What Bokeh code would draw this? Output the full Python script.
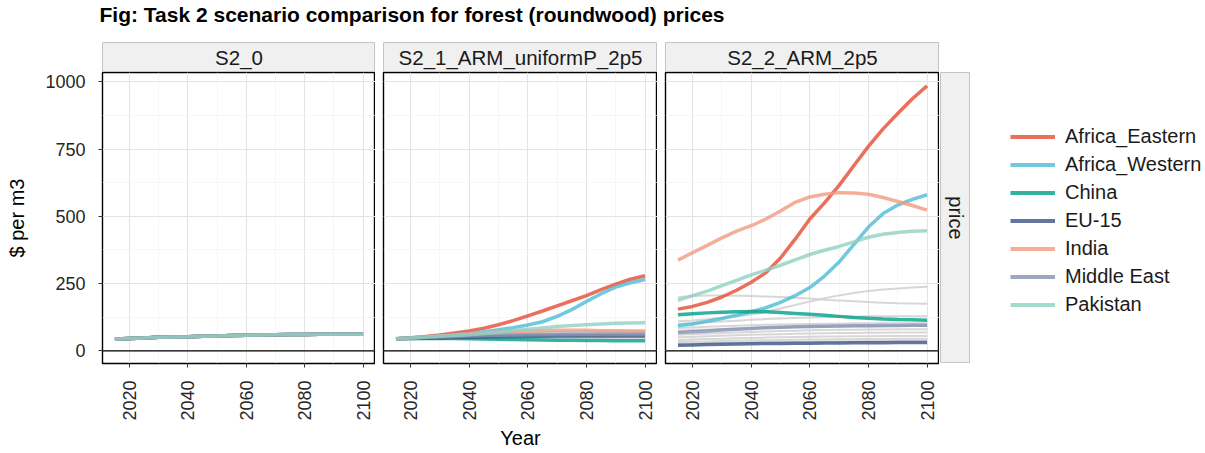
import math
from bokeh.plotting import figure
from bokeh.layouts import row, column
from bokeh.models import Range1d, FixedTicker, Span, Legend, LegendItem, Title
from bokeh.core.properties import value
from bokeh.embed import file_html
from bokeh.resources import INLINE

FONT = "Liberation Sans"

# ---------------- data ----------------
years = [2015, 2020, 2025, 2030, 2035, 2040, 2045, 2050, 2055,
         2060, 2065, 2070, 2075, 2080, 2085, 2090, 2095, 2100]

scenarios = ["S2_0", "S2_1_ARM_uniformP_2p5", "S2_2_ARM_2p5"]
regions = ["Africa_Eastern", "Africa_Western", "China", "EU-15",
           "India", "Middle East", "Pakistan"]
region_colors = ["#E64B35", "#4DBBD5", "#00A087", "#3C5488",
                 "#F39B7F", "#8491B4", "#91D1C2"]

x_major = [2020, 2040, 2060, 2080, 2100]
x_minor = [2030, 2050, 2070, 2090]
y_major = [0, 250, 500, 750, 1000]
y_minor = [125, 375, 625, 875]

# S2_0: one uniform price for every region
s20_all_regions = [44, 46, 48, 50, 51, 52, 54, 55, 57, 58, 59, 60, 61, 61, 62, 62, 62, 62]

# S2_1_ARM_uniformP_2p5
s21_africa_eastern = [45, 49, 53, 59, 66, 74, 84, 97, 112, 130, 148, 167, 186, 205, 227, 248, 266, 279]
s21_africa_western = [45, 48, 51, 55, 60, 65, 71, 78, 86, 96, 108, 128, 153, 183, 212, 237, 253, 265]
s21_china = [45, 46, 46, 46, 46, 45, 44, 43, 42, 41, 40, 39, 39, 38, 38, 37, 37, 37]
s21_eu15 = [45, 46, 47, 48, 49, 50, 51, 52, 53, 54, 54, 55, 55, 55, 55, 55, 55, 55]
s21_india = [45, 48, 51, 55, 59, 63, 67, 70, 72, 74, 75, 76, 76, 76, 75, 75, 74, 73]
s21_middle_east = [45, 47, 49, 51, 53, 55, 57, 58, 59, 60, 61, 61, 62, 62, 62, 62, 62, 62]
s21_pakistan = [45, 48, 51, 54, 57, 60, 64, 69, 75, 80, 85, 90, 94, 97, 100, 102, 103, 104]
s21_other_regions = [
    [45, 47, 50, 53, 56, 59, 62, 64, 66, 68, 70, 71, 72, 73, 74, 75, 75, 76],
    [45, 46, 48, 50, 52, 54, 56, 57, 58, 59, 60, 61, 62, 62, 63, 63, 64, 64],
    [45, 46, 47, 48, 49, 50, 51, 52, 53, 54, 55, 55, 56, 56, 57, 57, 58, 58],
    [45, 45, 46, 46, 46, 47, 47, 47, 47, 48, 48, 48, 48, 48, 48, 48, 48, 48],
    [45, 46, 47, 49, 51, 53, 55, 58, 60, 62, 64, 66, 67, 68, 69, 70, 70, 71],
]

# S2_2_ARM_2p5
s22_africa_eastern = [155, 165, 180, 200, 225, 255, 290, 345, 415, 490, 550, 615, 688, 760, 825, 882, 937, 985]
s22_africa_western = [93, 100, 110, 120, 132, 145, 160, 180, 205, 235, 278, 330, 395, 460, 510, 542, 563, 580]
s22_china = [134, 138, 141, 143, 145, 146, 145, 142, 139, 136, 132, 128, 124, 121, 118, 116, 115, 114]
s22_eu15 = [21, 22, 23, 24, 25, 26, 27, 27, 28, 28, 29, 29, 30, 30, 30, 31, 31, 31]
s22_india = [337, 365, 392, 420, 445, 465, 490, 520, 552, 572, 582, 588, 587, 582, 570, 555, 540, 523]
s22_middle_east = [68, 71, 74, 77, 80, 83, 86, 88, 89, 90, 91, 92, 93, 93, 94, 94, 95, 95]
s22_pakistan = [188, 205, 222, 242, 262, 282, 300, 318, 338, 358, 374, 388, 405, 422, 433, 440, 444, 446]
s22_other_regions = [
    [200, 204, 206, 206, 205, 204, 202, 200, 197, 194, 190, 187, 184, 181, 179, 177, 176, 175],
    [110, 113, 117, 122, 128, 135, 145, 157, 170, 183, 195, 206, 215, 222, 228, 232, 235, 238],
    [100, 103, 106, 109, 112, 115, 118, 120, 122, 124, 125, 126, 127, 128, 128, 128, 128, 128],
    [85, 87, 89, 91, 93, 95, 97, 98, 99, 100, 101, 101, 102, 102, 102, 102, 102, 102],
    [75, 77, 79, 81, 83, 85, 86, 87, 88, 89, 90, 90, 91, 91, 91, 92, 92, 92],
    [60, 62, 64, 66, 68, 70, 72, 74, 75, 76, 77, 78, 78, 79, 79, 80, 80, 80],
    [50, 52, 54, 56, 58, 60, 61, 62, 63, 64, 65, 66, 66, 67, 67, 68, 68, 68],
    [40, 42, 44, 45, 47, 48, 49, 50, 51, 52, 53, 53, 54, 54, 55, 55, 55, 55],
    [33, 34, 35, 36, 37, 38, 39, 40, 41, 42, 42, 43, 43, 44, 44, 45, 45, 45],
    [26, 27, 28, 29, 30, 31, 32, 33, 33, 34, 34, 35, 35, 36, 36, 37, 37, 38],
]

series = {
    "S2_0": {r: s20_all_regions for r in regions},
    "S2_1_ARM_uniformP_2p5": dict(zip(regions, [s21_africa_eastern, s21_africa_western, s21_china,
                                                 s21_eu15, s21_india, s21_middle_east, s21_pakistan])),
    "S2_2_ARM_2p5": dict(zip(regions, [s22_africa_eastern, s22_africa_western, s22_china,
                                        s22_eu15, s22_india, s22_middle_east, s22_pakistan])),
}
others = {
    "S2_0": [s20_all_regions] * 5,
    "S2_1_ARM_uniformP_2p5": s21_other_regions,
    "S2_2_ARM_2p5": s22_other_regions,
}

# ---------------- styling helpers ----------------
X_RANGE = (2010.75, 2104.25)
Y_RANGE = (-47.2, 1034.6)
STRIP_FILL = "#F0F0F0"
STRIP_LINE = "#C4C4C4"
TICK_COLOR = "#262626"
PANEL_H = 380
STRIP_H = 30
HEADER_H = 42


def blank_fig(width, height, xr=(0, 1), yr=(0, 1), **kw):
    f = figure(width=width, height=height, x_range=Range1d(*xr), y_range=Range1d(*yr),
               output_backend="svg", toolbar_location=None,
               x_axis_location=None, y_axis_location=None, **kw)
    f.grid.visible = False
    return f


def strip_fig(label, width, left):
    s = blank_fig(width, STRIP_H,
                  min_border_left=left, min_border_right=0, min_border_top=0, min_border_bottom=0,
                  background_fill_color=STRIP_FILL, border_fill_color="white",
                  outline_line_color=STRIP_LINE, outline_line_width=1)
    s.text(x=[0.5], y=[0.5], text=[label], text_align="center", text_baseline="middle",
           text_font=value(FONT), text_font_size="20.5px", text_color="#1A1A1A")
    return s


def panel_fig(sc, width, left, show_y, xlabel):
    p = figure(width=width, height=PANEL_H, x_range=Range1d(*X_RANGE), y_range=Range1d(*Y_RANGE),
               output_backend="svg", toolbar_location=None,
               min_border_left=left, min_border_right=0, min_border_top=0,
               min_border_bottom=PANEL_H - 291,
               y_axis_location="left" if show_y else None,
               background_fill_color="white", border_fill_color="white",
               outline_line_color="black", outline_line_width=1.4)
    p.xgrid.ticker = FixedTicker(ticks=x_major, minor_ticks=x_minor)
    p.ygrid.ticker = FixedTicker(ticks=y_major, minor_ticks=y_minor)
    p.grid.grid_line_color = "#E4E4E4"
    p.grid.grid_line_width = 1.1
    p.grid.minor_grid_line_color = "#F2F2F2"
    p.grid.minor_grid_line_width = 0.7

    xa = p.xaxis[0]
    xa.ticker = FixedTicker(ticks=x_major)
    xa.axis_line_color = None
    xa.major_tick_in = 0
    xa.major_tick_out = 4
    xa.major_tick_line_color = "#333333"
    xa.major_tick_line_width = 1
    xa.minor_tick_line_color = None
    xa.major_label_orientation = math.pi / 2
    xa.major_label_standoff = 13
    xa.major_label_text_font = FONT
    xa.major_label_text_font_size = "18px"
    xa.major_label_text_color = TICK_COLOR
    if xlabel:
        xa.axis_label = xlabel
        xa.axis_label_standoff = 3
        xa.axis_label_text_font = FONT
        xa.axis_label_text_font_size = "20px"
        xa.axis_label_text_font_style = "normal"
        xa.axis_label_text_color = "black"

    if show_y:
        ya = p.yaxis[0]
        ya.ticker = FixedTicker(ticks=y_major)
        ya.axis_line_color = None
        ya.major_tick_in = 0
        ya.major_tick_out = 4
        ya.major_tick_line_color = "#333333"
        ya.minor_tick_line_color = None
        ya.major_label_standoff = 13
        ya.major_label_text_font = FONT
        ya.major_label_text_font_size = "18px"
        ya.major_label_text_color = TICK_COLOR
        ya.axis_label = "$ per m3"
        ya.axis_label_standoff = 14
        ya.axis_label_text_font = FONT
        ya.axis_label_text_font_size = "20px"
        ya.axis_label_text_font_style = "normal"
        ya.axis_label_text_color = "black"

    for vals in others[sc]:
        p.line(years, vals, line_color="#D0D0D0", line_width=2, line_alpha=0.85)
    for r, c in zip(regions, region_colors):
        p.line(years, series[sc][r], line_color=c, line_width=3.5, line_alpha=0.8)

    p.add_layout(Span(location=0, dimension="width", line_color="black", line_width=1.3))
    return p


# ---------------- build ----------------
header = blank_fig(1204, HEADER_H, min_border_left=0, min_border_right=0,
                   min_border_top=0, min_border_bottom=0, outline_line_color=None)
header.title = Title(text="Fig: Task 2 scenario comparison for forest (roundwood) prices",
                     text_font=FONT, text_font_size="21px", text_font_style="bold",
                     text_color="black", align="left", offset=99, standoff=0)

p1 = panel_fig(scenarios[0], 375, 102, True, None)
p2 = panel_fig(scenarios[1], 282, 8, False, "Year")
p3 = panel_fig(scenarios[2], 282, 8, False, None)

st1 = strip_fig(scenarios[0], 375, 102)
st2 = strip_fig(scenarios[1], 282, 8)
st3 = strip_fig(scenarios[2], 282, 8)

# right-hand facet strip ("price")
pf = blank_fig(31, STRIP_H + 291, min_border_left=1, min_border_right=0,
               min_border_top=STRIP_H, min_border_bottom=0,
               background_fill_color=STRIP_FILL, border_fill_color="white",
               outline_line_color=STRIP_LINE, outline_line_width=1)
pf.text(x=[0.5], y=[0.5], text=["price"], angle=-math.pi / 2, text_align="center",
        text_baseline="middle", text_font=value(FONT), text_font_size="20px", text_color="#1A1A1A")

# legend figure: the key lines use the region series, kept outside the (empty) view
lf = blank_fig(234, STRIP_H + 291, min_border_left=0, min_border_right=0,
               min_border_top=STRIP_H, min_border_bottom=0,
               background_fill_color="white", border_fill_color="white", outline_line_color=None)
legend_renderers = [lf.line(years, series[scenarios[2]][r], line_color=c, line_width=4, line_alpha=0.8)
                    for r, c in zip(regions, region_colors)]
legend = Legend(items=[LegendItem(label=r, renderers=[lr]) for r, lr in zip(regions, legend_renderers)],
                location=(40, 47), orientation="vertical",
                border_line_color=None, background_fill_alpha=0,
                label_text_font=FONT, label_text_font_size="20px", label_text_color="#1A1A1A",
                glyph_width=45, glyph_height=23, label_height=23, label_standoff=10,
                spacing=5, padding=0, margin=0)
lf.add_layout(legend)

body = row(column(st1, p1), column(st2, p2), column(st3, p3), pf, lf)
layout = column(header, body)

open("out.html", "w").write(file_html(layout, INLINE))
